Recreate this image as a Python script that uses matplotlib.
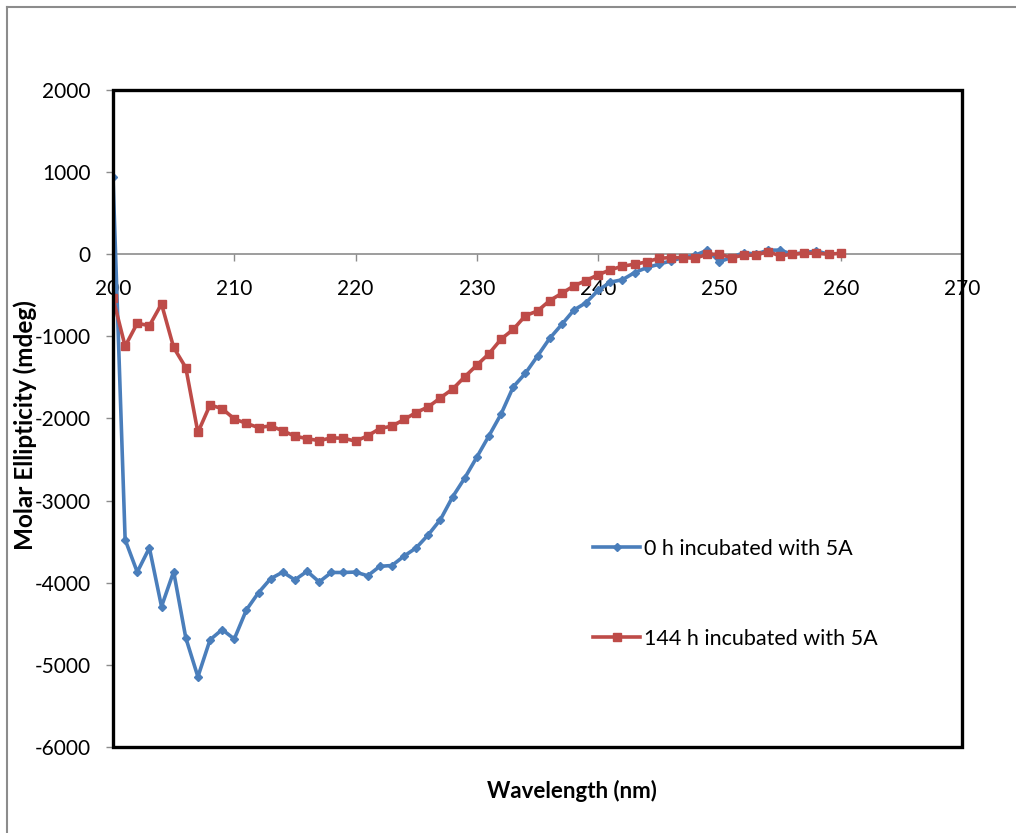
import matplotlib
matplotlib.use("Agg")
import matplotlib.pyplot as plt
from matplotlib.lines import Line2D
from matplotlib.patches import Rectangle

plt.rcParams['font.family'] = ['Lato', 'DejaVu Sans']
plt.rcParams['axes.unicode_minus'] = False

# CD spectra
wl_0h = list(range(200, 260))
cd_0h = [940, -3475, -3870, -3575, -4290, -3865, -4670, -5145, -4695, -4570,
         -4685, -4330, -4120, -3950, -3870, -3965, -3860, -3990, -3875, -3875,
         -3870, -3915, -3800, -3790, -3675, -3575, -3415, -3230, -2955, -2725,
         -2470, -2210, -1945, -1615, -1450, -1240, -1025, -855, -680, -590,
         -440, -340, -310, -224, -163, -122, -81, -41, -12, 50,
         -90, -40, 20, 0, 50, 50, 0, 20, 40, 0]

wl_144h = list(range(200, 261))
cd_144h = [-535, -1120, -840, -870, -605, -1135, -1380, -2170, -1835, -1880,
           -2005, -2060, -2110, -2090, -2150, -2215, -2245, -2270, -2236, -2240,
           -2276, -2211, -2122, -2093, -2012, -1927, -1858, -1748, -1642, -1492,
           -1350, -1211, -1033, -915, -748, -691, -565, -476, -385, -320,
           -250, -190, -145, -122, -93, -49, -41, -41, -49, 0,
           0, -41, -12, -12, 33, -20, 0, 12, 12, 0, 12]

x_ticks = [200, 210, 220, 230, 240, 250, 260, 270]
y_ticks = [2000, 1000, 0, -1000, -2000, -3000, -4000, -5000, -6000]
labels = ["0 h incubated with 5A", "144 h incubated with 5A"]

blue = "#4A7EBB"
red = "#BE4B48"

fig = plt.figure(figsize=(10.16, 8.33), dpi=100)
ax = fig.add_axes([113 / 1016, 1 - 747 / 833, (962 - 113) / 1016, (747 - 90) / 833])

ax.plot(wl_0h, cd_0h, color=blue, lw=2.6, marker="D", ms=4.5, label=labels[0], zorder=3)
ax.plot(wl_144h, cd_144h, color=red, lw=2.6, marker="s", ms=6, label=labels[1], zorder=3)

ax.set_xlim(200, 270)
ax.set_ylim(-6000, 2000)
ax.set_xticks(x_ticks)
ax.set_yticks(y_ticks)

# x axis sits on y = 0
for s in ["top", "right", "left"]:
    ax.spines[s].set_visible(False)
ax.spines["bottom"].set_position(("data", 0))
ax.spines["bottom"].set_color("#8c8c8c")
ax.spines["bottom"].set_linewidth(1.2)
ax.spines["bottom"].set_zorder(2)
ax.add_patch(Rectangle((0, 0), 1, 1, transform=ax.transAxes, fill=False,
                       ec="black", lw=2.4, clip_on=False, zorder=4))

ax.tick_params(axis="x", direction="out", length=5, width=1, color="#8c8c8c",
               labelsize=15, pad=13, labelcolor="black")
ax.tick_params(axis="y", direction="out", length=5, width=1, color="#8c8c8c",
               labelsize=15, pad=11, labelcolor="black")

fig.text(25 / 1016, 1 - 425 / 833, "Molar Ellipticity (mdeg)", rotation=90,
         ha="center", va="center", fontsize=17.5, fontweight="bold")
fig.text(572 / 1016, 1 - 791 / 833, "Wavelength (nm)", ha="center", va="center",
         fontsize=16, fontweight="bold")

ax.legend(loc="upper left", bbox_to_anchor=(593 / 1016, 1 - 539 / 833),
          bbox_transform=fig.transFigure, frameon=False, fontsize=15.5,
          handlelength=2.2, handletextpad=0.15, labelspacing=3.25, numpoints=1,
          borderaxespad=0, borderpad=0)

# grey outer chart border (right and bottom edges fall off the image)
fig.add_artist(Line2D([7 / 1016, 7 / 1016], [0, 1 - 7 / 833], color="#8c8c8c", lw=1.5))
fig.add_artist(Line2D([7 / 1016, 1], [1 - 7 / 833, 1 - 7 / 833], color="#8c8c8c", lw=1.5))

fig.savefig("out.png", dpi=100)
